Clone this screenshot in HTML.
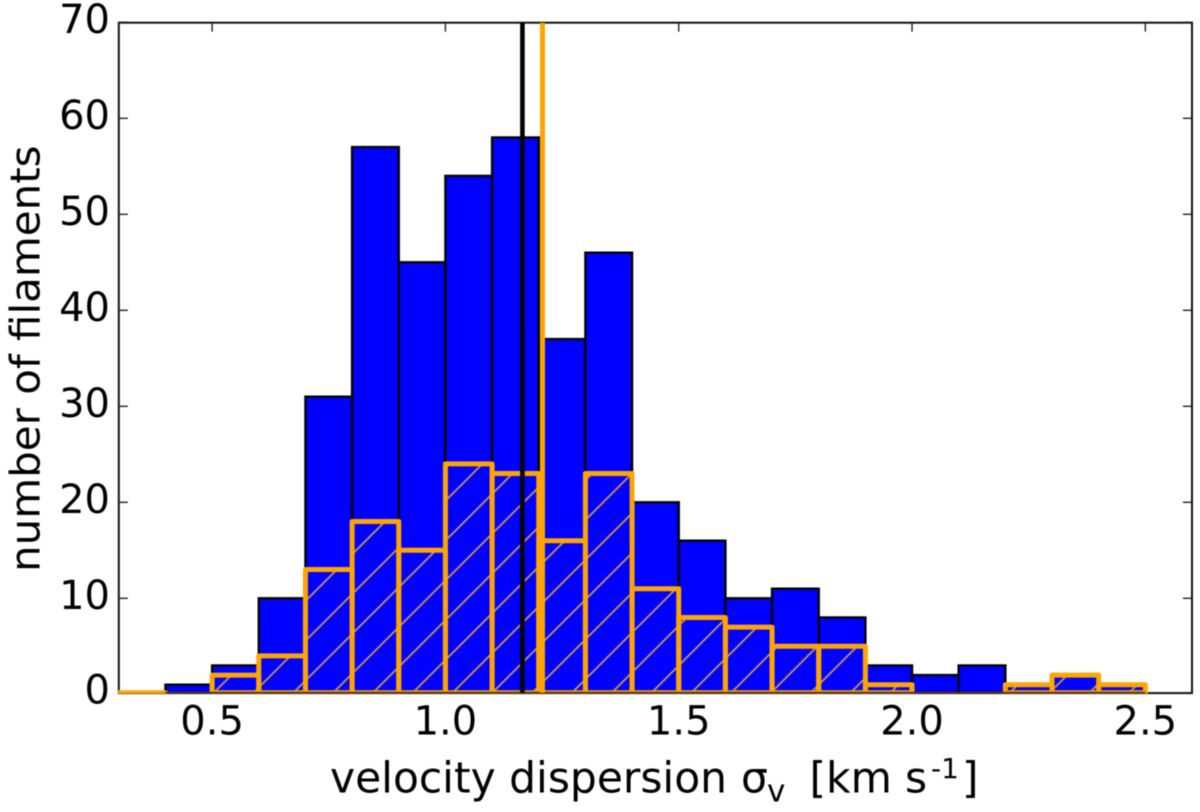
<!DOCTYPE html>
<html lang="en">
<head>
<meta charset="utf-8">
<title>Velocity dispersion histogram</title>
<style>
  html, body { margin: 0; padding: 0; background: #fff; }
  body { width: 1200px; height: 812px; overflow: hidden; }
  svg { display: block; filter: blur(0.5px); }
  text { font-family: "DejaVu Sans", "Liberation Sans", sans-serif; fill: #000; }
</style>
</head>
<body>
<svg id="chart" xmlns="http://www.w3.org/2000/svg" width="1200" height="812" viewBox="0 0 1200 812">
  <defs>
    <pattern id="hatch" patternUnits="userSpaceOnUse" width="39.8" height="39.8" patternTransform="translate(373 652.9)">
      <line x1="-4" y1="43.8" x2="43.8" y2="-4" stroke="#cc9650" stroke-width="1.8"></line>
      <line x1="-4" y1="4" x2="4" y2="-4" stroke="#cc9650" stroke-width="1.8"></line>
      <line x1="35.8" y1="43.8" x2="43.8" y2="35.8" stroke="#cc9650" stroke-width="1.8"></line>
    </pattern>
    <clipPath id="plot-clip">
      <rect x="118" y="22" width="1075" height="671.6"></rect>
    </clipPath>
  </defs>
  <g id="axes"></g>
  <g clip-path="url(#plot-clip)">
    <g id="bars-all"></g>
    <g id="bars-sub"></g>
    <g id="baseline"></g>
    <g id="vlines"></g>
  </g>
  <text transform="translate(0 792.5)" font-size="42.4"><tspan x="330" y="0">velocity dispersion</tspan><tspan x="741" y="0">σ</tspan><tspan x="767" y="9" font-size="31">v</tspan><tspan x="809.5" y="0">[km</tspan><tspan x="905" y="0">s</tspan><tspan x="931" y="-14.5" font-size="28">-1</tspan><tspan x="962" y="0">]</tspan></text>
  <text transform="translate(39.5 358.7) rotate(-90) scale(1 0.97)" text-anchor="middle" font-size="42">number of filaments</text>
</svg>
<script>
const binStart = 0.3;
const binWidth = 0.1;
const allCounts = [0, 1, 3, 10, 31, 57, 45, 54, 58, 37, 46, 20, 16, 10, 11, 8, 3, 2, 3, 1, 2, 1];
const subsetCounts = [0, 0, 2, 4, 13, 18, 15, 24, 23, 16, 23, 11, 8, 7, 5, 5, 1, 0, 0, 1, 2, 1];
const medianAll = 1.165;
const medianSubset = 1.208;
const xTicks = [0.5, 1.0, 1.5, 2.0, 2.5];
const xTickLabels = ['0.5', '1.0', '1.5', '2.0', '2.5'];
const yTicks = [0, 10, 20, 30, 40, 50, 60, 70];
const yTickLabels = ['0', '10', '20', '30', '40', '50', '60', '70'];
const xDomain = [0.3, 2.6];
const yDomain = [0, 70];

const plot = { left: 118.8, right: 1192, top: 22.7, bottom: 692.7 };
const yZeroPx = 694.3;
const yTopPx = 22.3;
const NS = 'http://www.w3.org/2000/svg';

function xScale(v) {
  return plot.left + (v - xDomain[0]) / (xDomain[1] - xDomain[0]) * (plot.right - plot.left);
}
function yScale(v) {
  return Math.max(yTopPx, yZeroPx - (v - yDomain[0]) / (yDomain[1] - yDomain[0]) * (yZeroPx - yTopPx));
}
function barTop(v) {
  return Math.min(yScale(v), plot.bottom);
}
function make(tag, attrs, parent) {
  const el = document.createElementNS(NS, tag);
  for (const k in attrs) el.setAttribute(k, attrs[k]);
  parent.appendChild(el);
  return el;
}

const axes = document.getElementById('axes');
const frame = make('rect', { x: plot.left, y: plot.top, width: plot.right - plot.left, height: plot.bottom - plot.top + 0.4, fill: 'none', stroke: '#111', 'stroke-width': 2 }, axes);



const barsAll = document.getElementById('bars-all');
allCounts.forEach(function (c, i) {
  if (c <= 0) return;
  const x0 = xScale(binStart + i * binWidth);
  const x1 = xScale(binStart + (i + 1) * binWidth);
  const top = barTop(c);
  const bar = make('rect', { x: x0, y: top, width: x1 - x0, height: plot.bottom - top, fill: '#0000ff', stroke: '#000', 'stroke-width': 2.4 }, barsAll);
  
  
});

const barsSub = document.getElementById('bars-sub');
subsetCounts.forEach(function (c, i) {
  if (c <= 0 && allCounts[i] > 0) return;
  const x0 = xScale(binStart + i * binWidth);
  const x1 = xScale(binStart + (i + 1) * binWidth);
  const top = barTop(c);
  const bar = make('rect', { x: x0, y: top, width: x1 - x0, height: Math.max(plot.bottom - top, 0.01), fill: 'url(#hatch)', stroke: '#ffa500', 'stroke-width': 5, 'stroke-linejoin': 'round' }, barsSub);
  
  
});

const baseline = document.getElementById('baseline');
const baseLine = make('line', { x1: xScale(binStart + binWidth), x2: xScale(binStart + allCounts.length * binWidth), y1: plot.bottom, y2: plot.bottom, stroke: '#5a3c10', 'stroke-width': 2 }, baseline);



const vlines = document.getElementById('vlines');
const lineSub = make('line', { x1: xScale(medianSubset), x2: xScale(medianSubset), y1: plot.top, y2: plot.bottom, stroke: '#ffa500', 'stroke-width': 5 }, vlines);


const lineAll = make('line', { x1: xScale(medianAll), x2: xScale(medianAll), y1: plot.top, y2: plot.bottom, stroke: '#000', 'stroke-width': 4.6 }, vlines);



xTicks.forEach(function (v, i) {
  const x = xScale(v);
  const b = make('line', { x1: x, x2: x, y1: plot.bottom, y2: plot.bottom - 9, stroke: '#222', 'stroke-width': 1.4 }, axes);
  
  
  const t = make('line', { x1: x, x2: x, y1: plot.top, y2: plot.top + 9, stroke: '#222', 'stroke-width': 1.4 }, axes);
  
  
  const label = make('text', { x: x, y: 734.5, 'text-anchor': 'middle', 'font-size': 40 }, axes);
  label.textContent = xTickLabels[i];
  
  
});

yTicks.forEach(function (v, i) {
  const y = Math.min(yScale(v), plot.bottom);
  const l = make('line', { x1: plot.left, x2: plot.left + 9, y1: y, y2: y, stroke: '#222', 'stroke-width': 1.4 }, axes);
  
  
  const r = make('line', { x1: plot.right, x2: plot.right - 9, y1: y, y2: y, stroke: '#222', 'stroke-width': 1.4 }, axes);
  
  
  const label = make('text', { x: 110, y: y + 10.6, 'text-anchor': 'end', 'font-size': 40 }, axes);
  label.textContent = yTickLabels[i];
  
  
});
</script>
</body>
</html>
